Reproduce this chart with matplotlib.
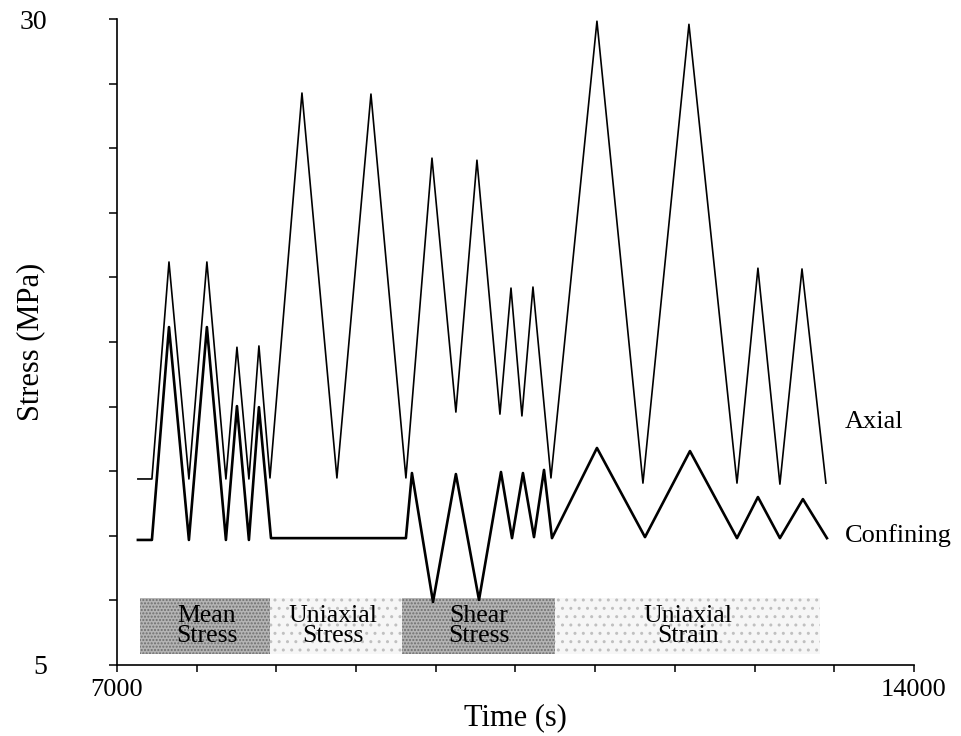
import matplotlib.pyplot as plt
import numpy as np

# ---- data ----
axial_t = [7184, 7307, 7457, 7632, 7790, 7957, 8054, 8159, 8247, 8344,
           8625, 8932, 9231, 9538, 9767, 9977, 10162, 10364, 10461, 10557,
           10654, 10812, 11216, 11620, 12024, 12446, 12630, 12823, 13017, 13227]
axial_s = [12.2, 12.2, 20.6, 12.2, 20.6, 12.2, 17.3, 12.2, 17.35, 12.24,
           27.14, 12.24, 27.1, 12.24, 24.62, 14.79, 24.54, 14.71, 19.59, 14.64,
           19.63, 12.24, 29.92, 12.04, 29.8, 12.04, 20.36, 12.0, 20.33, 12.04]

conf_t = [7184, 7307, 7457, 7632, 7790, 7957, 8054, 8159, 8247, 8353,
          9538, 9591, 9776, 9977, 10180, 10373, 10470, 10566, 10663, 10751,
          10821, 11216, 11638, 12033, 12446, 12630, 12823, 13025, 13236]
conf_s = [9.84, 9.84, 18.08, 9.84, 18.08, 9.84, 15.02, 9.84, 14.98, 9.91,
          9.91, 12.43, 7.44, 12.39, 7.52, 12.47, 9.91, 12.43, 9.95, 12.55,
          9.91, 13.40, 9.95, 13.28, 9.91, 11.50, 9.91, 11.42, 9.91]

band_edges = [7202, 8344, 9503, 10847, 13175]
band_names = ["Mean\nStress", "Uniaxial\nStress", "Shear\nStress", "Uniaxial\nStrain"]
band_text_x = [7790, 8897, 10179, 12015]
band_dark = [True, False, True, False]
band_y = [5.43, 7.60]

x_ticks = np.arange(7000, 14001, 700)
y_ticks = np.arange(5, 30.01, 2.5)

plt.rcParams["font.family"] = ["Liberation Serif", "DejaVu Serif"]

fig = plt.figure(figsize=(9.61, 7.36), dpi=100)
ax = fig.add_axes([0.1217, 0.0965, 0.8293, 0.8775])

# stippled regime bands
for i, name in enumerate(band_names):
    if band_dark[i]:
        fc, hc, hatch = "#b4b4b4", "#6e6e6e", "....."
    else:
        fc, hc, hatch = "#f6f6f6", "#c0c0c0", ".."
    ax.fill_between([band_edges[i], band_edges[i + 1]], band_y[0], band_y[1],
                    facecolor=fc, edgecolor=hc, hatch=hatch, linewidth=0, zorder=1)
    ax.text(band_text_x[i], (band_y[0] + band_y[1]) / 2, name, ha="center",
            va="center", fontsize=18.5, linespacing=0.85, zorder=3)

ax.plot(axial_t, axial_s, color="black", lw=1.2, zorder=2)
ax.plot(conf_t, conf_s, color="black", lw=1.9, zorder=2)

ax.text(13394, 14.4, "Axial", fontsize=19, va="center", ha="left")
ax.text(13394, 10.03, "Confining", fontsize=19, va="center", ha="left")

ax.set_xlim(7000, 14000)
ax.set_ylim(5, 30)
ax.set_xticks(x_ticks)
ax.set_xticklabels(["7000"] + [""] * (len(x_ticks) - 2) + ["14000"])
ax.set_yticks(y_ticks)
ax.set_yticklabels(["5"] + [""] * (len(y_ticks) - 2) + ["30"])
ax.tick_params(axis="x", direction="out", length=5, width=1.1, labelsize=19, pad=5)
ax.tick_params(axis="y", direction="out", length=6, width=1.1, labelsize=20, pad=44)

ax.spines["top"].set_visible(False)
ax.spines["right"].set_visible(False)
ax.spines["left"].set_linewidth(1.2)
ax.spines["bottom"].set_linewidth(1.2)

ax.set_xlabel("Time (s)", fontsize=22, labelpad=2)
ax.set_ylabel("Stress (MPa)", fontsize=22)
ax.yaxis.set_label_coords(-0.09, 0.5)

fig.savefig("out.png", dpi=100)
